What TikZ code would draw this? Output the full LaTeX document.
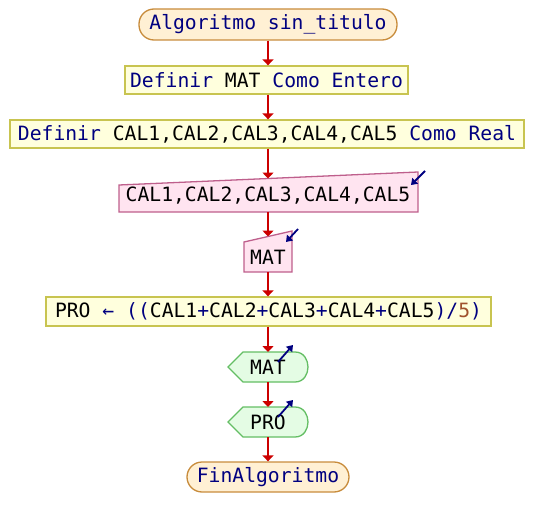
\documentclass[tikz,border=0pt]{standalone}
\usepackage{fontspec}
\setmonofont{DejaVu Sans Mono}
\usetikzlibrary{arrows.meta,calc}

\definecolor{kw}{RGB}{0,0,128}
\definecolor{num}{RGB}{160,82,45}
\definecolor{flow}{RGB}{204,0,0}
\definecolor{termfill}{RGB}{255,240,212}
\definecolor{termedge}{RGB}{200,140,60}
\definecolor{procfill}{RGB}{255,255,221}
\definecolor{procedge}{RGB}{200,196,80}
\definecolor{infill}{RGB}{255,228,240}
\definecolor{inedge}{RGB}{190,95,140}
\definecolor{outfill}{RGB}{228,252,228}
\definecolor{outedge}{RGB}{100,190,100}

\tikzset{
  term/.style={draw=termedge, fill=termfill, line width=1.3pt,
    rounded corners=15pt, inner sep=0pt, text=kw},
  proc/.style={draw=procedge, fill=procfill, line width=1.3pt, inner sep=0pt},
  inbox/.style={draw=inedge, fill=infill, line width=1.3pt},
  outbox/.style={draw=outedge, fill=outfill, line width=1.3pt},
  txt/.style={inner sep=0pt},
  flowarrow/.style={draw=flow, line width=2pt, -{Triangle[width=11pt,length=6pt]}},
  ioarrow/.style={draw=kw, line width=1.8pt, -{Triangle[width=8pt,length=6pt]}},
}

\begin{document}
\begin{tikzpicture}[x=1pt, y=-1pt, font=\ttfamily\fontsize{19.7}{22}\selectfont]
\useasboundingbox (0,0) rectangle (536,527);

% start / declarations
\node[term, minimum width=258pt, minimum height=31pt] (start) at (268,24.5) {Algoritmo sin\_titulo};
\node[proc, minimum width=283pt, minimum height=28pt] (defmat) at (266.5,80)
  {\textcolor{kw}{Definir} MAT \textcolor{kw}{Como Entero}};
\node[proc, minimum width=514pt, minimum height=28pt] (defcal) at (267,134)
  {\textcolor{kw}{Definir} CAL1,CAL2,CAL3,CAL4,CAL5 \textcolor{kw}{Como Real}};

% read the five grades
\coordinate (rc-tl) at (119,185);
\coordinate (rc-tr) at (418,172);
\coordinate (rc-br) at (418,212);
\coordinate (rc-bl) at (119,212);
\filldraw[inbox] (rc-tl) -- (rc-tr) -- (rc-br) -- (rc-bl) -- cycle;
\node[txt] (readcal) at (268,196) {CAL1,CAL2,CAL3,CAL4,CAL5};
\coordinate (readcal-in) at ($(rc-tl)!0.5!(rc-tr)$);
\coordinate (readcal-out) at ($(rc-bl)!0.5!(rc-br)$);
\coordinate (rc-arrow-tail) at (425,171);
\coordinate (rc-arrow-head) at (411,185);
\draw[ioarrow] (rc-arrow-tail) -- (rc-arrow-head);

% read MAT
\coordinate (rm-tl) at (244,242);
\coordinate (rm-tr) at (292,231);
\coordinate (rm-br) at (292,272);
\coordinate (rm-bl) at (244,272);
\filldraw[inbox] (rm-tl) -- (rm-tr) -- (rm-br) -- (rm-bl) -- cycle;
\node[txt] (readmat) at (268,257) {MAT};
\coordinate (readmat-in) at ($(rm-tl)!0.5!(rm-tr)$);
\coordinate (readmat-out) at ($(rm-bl)!0.5!(rm-br)$);
\coordinate (rm-arrow-tail) at (298,229);
\coordinate (rm-arrow-head) at (286,242);
\draw[ioarrow] (rm-arrow-tail) -- (rm-arrow-head);

% average
\node[proc, minimum width=445pt, minimum height=29pt] (avg) at (268.5,311.5)
  {PRO \textcolor{kw}{← ((}CAL1\textcolor{kw}{+}CAL2\textcolor{kw}{+}CAL3\textcolor{kw}{+}CAL4\textcolor{kw}{+}CAL5\textcolor{kw}{)/}\textcolor{num}{5}\textcolor{kw}{)}};

% write MAT
\filldraw[outbox] (228,367) -- (243,352) -- (295,352)
  .. controls (304,352) and (308,360) .. (308,367)
  .. controls (308,374) and (304,382) .. (295,382) -- (243,382) -- cycle;
\node[txt] (writemat) at (268,367) {MAT};
\coordinate (writemat-in) at (268,352);
\coordinate (writemat-out) at (268,382);
\coordinate (wm-arrow-tail) at (278,362);
\coordinate (wm-arrow-head) at (293,345);
\draw[ioarrow] (wm-arrow-tail) -- (wm-arrow-head);

% write PRO
\filldraw[outbox] (228,422) -- (243,407) -- (295,407)
  .. controls (304,407) and (308,415) .. (308,422)
  .. controls (308,429) and (304,437) .. (295,437) -- (243,437) -- cycle;
\node[txt] (writepro) at (268,422) {PRO};
\coordinate (writepro-in) at (268,407);
\coordinate (writepro-out) at (268,437);
\coordinate (wp-arrow-tail) at (278,417);
\coordinate (wp-arrow-head) at (293,400);
\draw[ioarrow] (wp-arrow-tail) -- (wp-arrow-head);

% end
\node[term, minimum width=162pt, minimum height=30pt] (finish) at (268,477) {FinAlgoritmo};

% flow connectors
\draw[flowarrow] (start.south) -- (start.south |- defmat.north);
\draw[flowarrow] (start.south |- defmat.south) -- (start.south |- defcal.north);
\draw[flowarrow] (start.south |- defcal.south) -- (start.south |- readcal-in);
\draw[flowarrow] (readcal-out -| start.south) -- (start.south |- readmat-in);
\draw[flowarrow] (readmat-out) -- (readmat-out |- avg.north);
\draw[flowarrow] (readmat-out |- avg.south) -- (writemat-in);
\draw[flowarrow] (writemat-out) -- (writepro-in);
\draw[flowarrow] (writepro-out) -- (finish.north);
\end{tikzpicture}
\end{document}
